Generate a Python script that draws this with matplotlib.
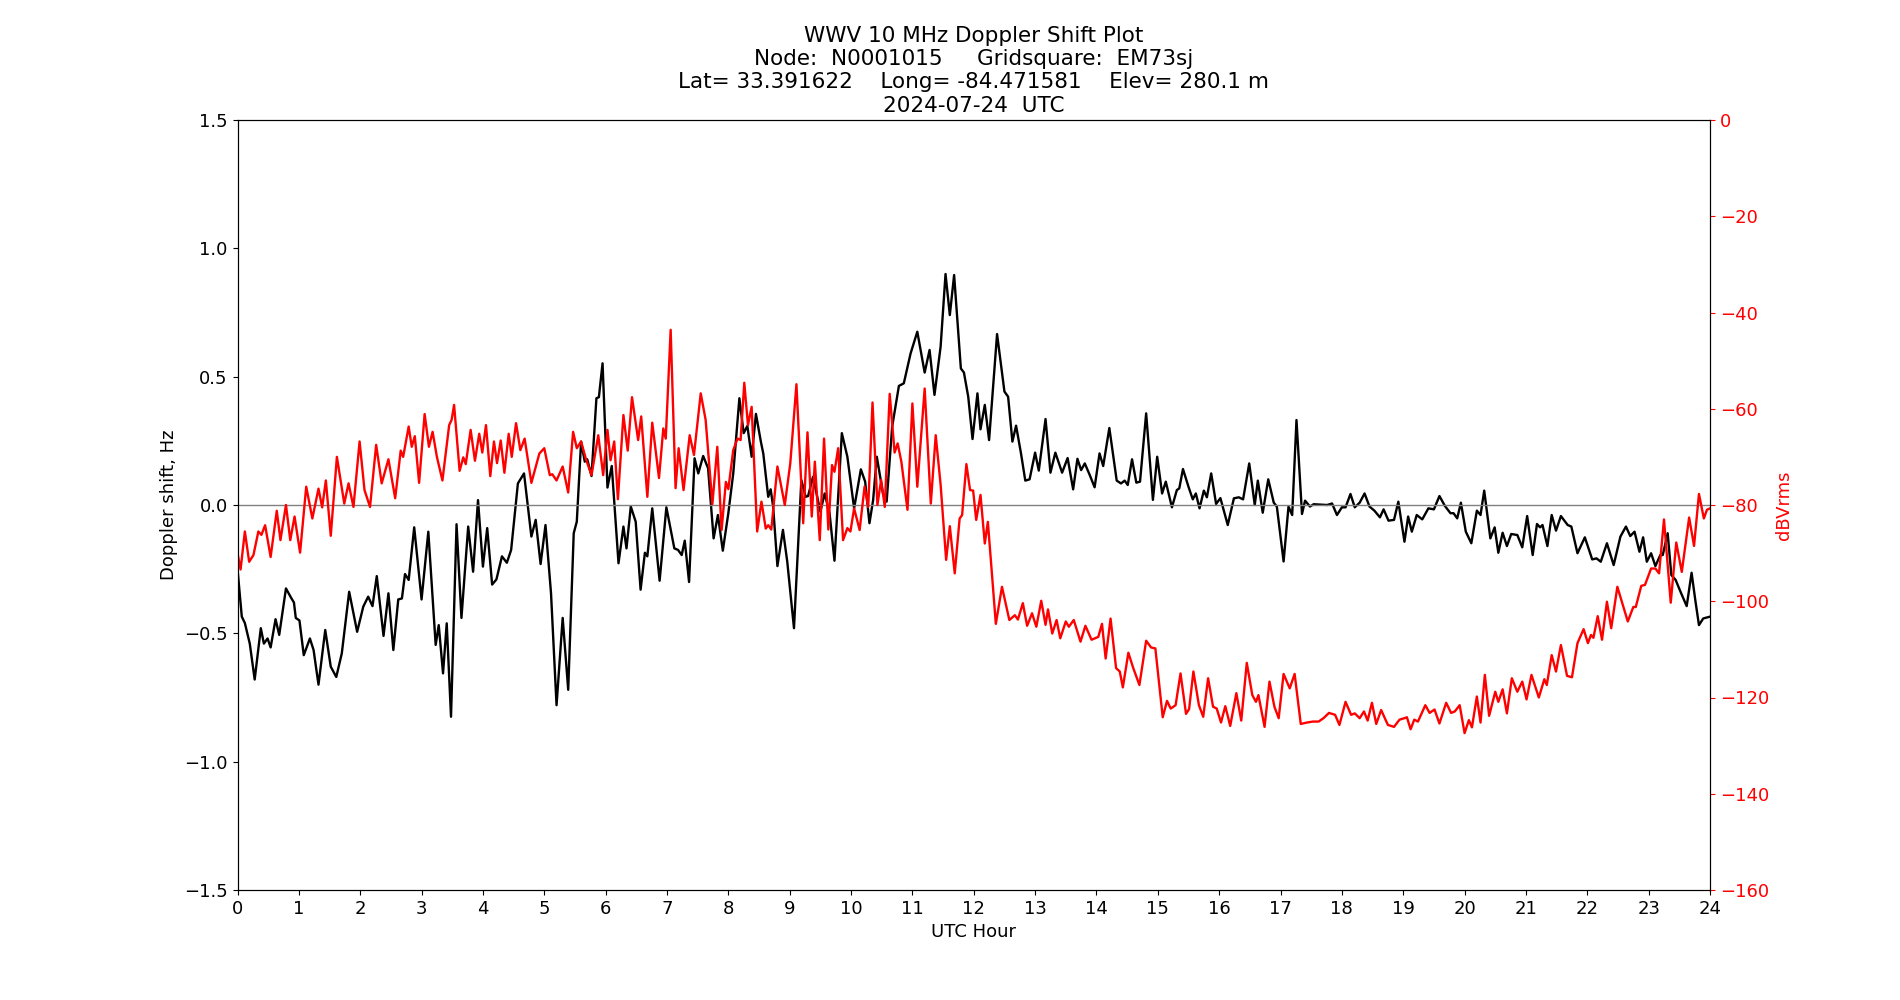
import matplotlib
matplotlib.use("Agg")
import matplotlib.pyplot as plt

# =========================
# DATA
# =========================
# Doppler shift (Hz) vs UTC hour
hours_doppler = [
    0.00, 0.07, 0.12, 0.20, 0.28, 0.38, 0.43, 0.49, 0.54, 0.62, 0.68, 0.79, 0.87, 0.92, 0.95,
    1.01, 1.08, 1.18, 1.24, 1.32, 1.43, 1.52, 1.61, 1.70, 1.82, 1.95, 2.05, 2.13, 2.20, 2.27,
    2.38, 2.46, 2.54, 2.62, 2.68, 2.73, 2.79, 2.88, 3.00, 3.11, 3.23, 3.28, 3.35, 3.41, 3.48,
    3.57, 3.65, 3.76, 3.84, 3.92, 4.00, 4.07, 4.15, 4.22, 4.31, 4.39, 4.46, 4.57, 4.67, 4.79,
    4.86, 4.94, 5.02, 5.11, 5.20, 5.30, 5.39, 5.48, 5.53, 5.60, 5.66, 5.70, 5.77, 5.85, 5.89,
    5.95, 6.03, 6.10, 6.21, 6.29, 6.34, 6.41, 6.49, 6.57, 6.64, 6.68, 6.76, 6.88, 6.99, 7.12,
    7.18, 7.24, 7.29, 7.36, 7.45, 7.51, 7.59, 7.67, 7.76, 7.83, 7.91, 8.00, 8.08, 8.18, 8.25,
    8.31, 8.38, 8.45, 8.53, 8.57, 8.65, 8.69, 8.73, 8.80, 8.89, 8.96, 9.07, 9.19, 9.26, 9.30,
    9.38, 9.50, 9.57, 9.65, 9.73, 9.85, 9.94, 10.05, 10.16, 10.23, 10.30, 10.36, 10.42, 10.46,
    10.52, 10.58, 10.67, 10.78, 10.86, 10.97, 11.08, 11.20, 11.28, 11.36, 11.46, 11.54, 11.61,
    11.68, 11.79, 11.84, 11.91, 11.98, 12.06, 12.11, 12.18, 12.25, 12.38, 12.50, 12.56, 12.63,
    12.69, 12.77, 12.84, 12.91, 13.00, 13.06, 13.17, 13.25, 13.33, 13.44, 13.53, 13.62, 13.69,
    13.75, 13.81, 13.89, 13.97, 14.05, 14.11, 14.21, 14.33, 14.40, 14.46, 14.51, 14.58, 14.65,
    14.71, 14.81, 14.92, 14.99, 15.07, 15.13, 15.23, 15.31, 15.35, 15.41, 15.50, 15.57, 15.62,
    15.68, 15.75, 15.80, 15.87, 15.95, 16.02, 16.14, 16.24, 16.32, 16.39, 16.49, 16.58, 16.63,
    16.71, 16.80, 16.89, 16.94, 17.05, 17.13, 17.19, 17.26, 17.35, 17.40, 17.48, 17.54, 17.76,
    17.84, 17.92, 18.00, 18.06, 18.14, 18.21, 18.29, 18.37, 18.45, 18.53, 18.62, 18.68, 18.76,
    18.85, 18.92, 19.02, 19.08, 19.14, 19.22, 19.31, 19.41, 19.50, 19.59, 19.68, 19.77, 19.82,
    19.88, 19.94, 20.02, 20.11, 20.20, 20.26, 20.32, 20.42, 20.49, 20.55, 20.62, 20.69, 20.76,
    20.86, 20.94, 21.02, 21.11, 21.18, 21.23, 21.27, 21.35, 21.42, 21.49, 21.57, 21.68, 21.74,
    21.84, 21.96, 22.08, 22.15, 22.22, 22.32, 22.43, 22.54, 22.63, 22.70, 22.77, 22.85, 22.91,
    22.97, 23.04, 23.11, 23.19, 23.23, 23.31, 23.37, 23.44, 23.53, 23.62, 23.70, 23.76, 23.82,
    23.89, 24.00,
]
doppler_hz = [
    -0.25, -0.435, -0.46, -0.54, -0.68, -0.48, -0.54, -0.52, -0.555, -0.445, -0.506, -0.325, -0.36, -0.38, -0.44,
    -0.45, -0.585, -0.52, -0.565, -0.70, -0.487, -0.63, -0.67, -0.578, -0.338, -0.494, -0.396, -0.357, -0.394, -0.277,
    -0.51, -0.344, -0.565, -0.368, -0.364, -0.269, -0.292, -0.087, -0.368, -0.104, -0.545, -0.468, -0.656, -0.461, -0.825,
    -0.075, -0.44, -0.084, -0.26, 0.019, -0.24, -0.09, -0.31, -0.29, -0.20, -0.225, -0.175, 0.084, 0.123, -0.123,
    -0.058, -0.23, -0.078, -0.344, -0.78, -0.44, -0.72, -0.11, -0.065, 0.247, 0.169, 0.178, 0.113, 0.416, 0.42,
    0.552, 0.068, 0.152, -0.227, -0.084, -0.169, -0.006, -0.065, -0.33, -0.186, -0.20, -0.013, -0.295, -0.009, -0.169,
    -0.175, -0.195, -0.139, -0.30, 0.182, 0.123, 0.191, 0.143, -0.13, -0.039, -0.178, -0.032, 0.123, 0.416, 0.28,
    0.308, 0.188, 0.355, 0.247, 0.20, 0.032, 0.061, -0.006, -0.238, -0.097, -0.22, -0.48, 0.097, 0.032, 0.035,
    0.11, -0.026, 0.045, -0.032, -0.217, 0.28, 0.188, -0.013, 0.139, 0.091, -0.071, 0.019, 0.188, 0.13,
    0.045, 0.013, 0.305, 0.464, 0.474, 0.59, 0.675, 0.516, 0.604, 0.429, 0.617, 0.90, 0.74,
    0.896, 0.532, 0.516, 0.422, 0.257, 0.435, 0.295, 0.39, 0.253, 0.666, 0.442, 0.422, 0.247,
    0.309, 0.201, 0.095, 0.10, 0.204, 0.134, 0.335, 0.126, 0.204, 0.126, 0.183, 0.061, 0.18,
    0.136, 0.162, 0.117, 0.069, 0.201, 0.152, 0.30, 0.095, 0.084, 0.095, 0.078, 0.178, 0.087,
    0.091, 0.357, 0.02, 0.188, 0.045, 0.091, -0.009, 0.058, 0.065, 0.14, 0.071, 0.022, 0.045,
    -0.013, 0.056, 0.03, 0.123, 0.004, 0.027, -0.078, 0.026, 0.03, 0.022, 0.162, 0.0, 0.095,
    -0.03, 0.10, 0.009, -0.006, -0.22, -0.006, -0.039, 0.331, -0.035, 0.017, -0.006, 0.003, 0.0,
    0.006, -0.039, -0.009, -0.009, 0.043, -0.009, 0.009, 0.045, -0.006, -0.022, -0.048, -0.017, -0.061,
    -0.058, 0.013, -0.143, -0.045, -0.104, -0.039, -0.056, -0.013, -0.017, 0.035, -0.004, -0.032, -0.032,
    -0.052, 0.009, -0.104, -0.149, -0.022, -0.039, 0.056, -0.13, -0.087, -0.186, -0.108, -0.16, -0.113,
    -0.117, -0.165, -0.043, -0.195, -0.074, -0.087, -0.078, -0.16, -0.039, -0.10, -0.043, -0.078, -0.084,
    -0.188, -0.126, -0.212, -0.208, -0.221, -0.149, -0.234, -0.123, -0.084, -0.121, -0.104, -0.182, -0.126,
    -0.221, -0.188, -0.238, -0.195, -0.195, -0.11, -0.273, -0.292, -0.344, -0.394, -0.264, -0.37, -0.468,
    -0.442, -0.435,
]

# Received power (dBVrms) vs UTC hour
hours_power = [
    0.00, 0.05, 0.12, 0.19, 0.26, 0.34, 0.39, 0.45, 0.54, 0.64, 0.70, 0.79, 0.86, 0.93, 1.02,
    1.12, 1.22, 1.32, 1.38, 1.44, 1.52, 1.62, 1.74, 1.81, 1.89, 1.99, 2.07, 2.16, 2.26, 2.35,
    2.46, 2.57, 2.66, 2.70, 2.79, 2.84, 2.89, 2.96, 3.05, 3.12, 3.18, 3.25, 3.34, 3.45, 3.49,
    3.53, 3.62, 3.68, 3.72, 3.80, 3.87, 3.94, 3.99, 4.05, 4.12, 4.18, 4.23, 4.29, 4.35, 4.42,
    4.47, 4.54, 4.61, 4.68, 4.79, 4.92, 5.00, 5.09, 5.13, 5.20, 5.30, 5.39, 5.47, 5.53, 5.60,
    5.68, 5.77, 5.88, 5.96, 6.03, 6.08, 6.14, 6.20, 6.29, 6.36, 6.43, 6.53, 6.58, 6.68, 6.76,
    6.87, 6.94, 6.98, 7.06, 7.14, 7.19, 7.27, 7.37, 7.44, 7.55, 7.63, 7.74, 7.82, 7.89, 7.96,
    8.00, 8.08, 8.15, 8.20, 8.26, 8.32, 8.38, 8.47, 8.54, 8.61, 8.65, 8.70, 8.80, 8.92, 9.01,
    9.11, 9.22, 9.29, 9.36, 9.41, 9.49, 9.56, 9.63, 9.69, 9.73, 9.79, 9.87, 9.94, 9.99, 10.05,
    10.14, 10.22, 10.28, 10.35, 10.43, 10.49, 10.55, 10.63, 10.71, 10.76, 10.82, 10.92, 11.00,
    11.08, 11.20, 11.30, 11.38, 11.46, 11.55, 11.61, 11.69, 11.77, 11.81, 11.88, 11.94, 11.99,
    12.04, 12.11, 12.18, 12.23, 12.36, 12.46, 12.58, 12.67, 12.72, 12.80, 12.87, 12.95, 13.02,
    13.10, 13.17, 13.21, 13.28, 13.35, 13.41, 13.50, 13.55, 13.63, 13.74, 13.82, 13.92, 14.03,
    14.09, 14.15, 14.23, 14.32, 14.38, 14.43, 14.52, 14.60, 14.70, 14.81, 14.89, 14.96, 15.08,
    15.15, 15.21, 15.29, 15.37, 15.46, 15.51, 15.58, 15.67, 15.74, 15.82, 15.90, 15.96, 16.03,
    16.10, 16.18, 16.28, 16.36, 16.45, 16.54, 16.60, 16.64, 16.74, 16.82, 16.90, 16.97, 17.05,
    17.15, 17.23, 17.33, 17.43, 17.53, 17.62, 17.70, 17.79, 17.89, 17.96, 18.06, 18.15, 18.21,
    18.29, 18.36, 18.42, 18.49, 18.56, 18.64, 18.75, 18.85, 18.94, 19.02, 19.06, 19.12, 19.18,
    19.24, 19.36, 19.43, 19.51, 19.59, 19.70, 19.78, 19.84, 19.92, 20.00, 20.07, 20.12, 20.20,
    20.26, 20.33, 20.40, 20.50, 20.55, 20.62, 20.69, 20.77, 20.86, 20.94, 21.01, 21.09, 21.21,
    21.30, 21.34, 21.42, 21.49, 21.57, 21.67, 21.75, 21.84, 21.94, 22.01, 22.06, 22.10, 22.17,
    22.24, 22.32, 22.39, 22.49, 22.66, 22.75, 22.79, 22.88, 22.94, 23.04, 23.11, 23.17, 23.25,
    23.36, 23.45, 23.54, 23.66, 23.74, 23.82, 23.90, 23.95, 24.00,
]
power_dbv = [
    -90.0, -93.4, -85.5, -91.8, -90.4, -85.5, -86.2, -84.2, -90.8, -81.2, -87.3, -80.0, -87.3, -82.4, -89.9,
    -76.2, -82.8, -76.6, -80.5, -74.9, -86.4, -70.0, -79.7, -75.5, -80.4, -66.8, -76.9, -80.4, -67.5, -75.5,
    -70.5, -78.6, -68.7, -70.0, -63.7, -67.9, -65.7, -75.4, -61.1, -67.9, -64.8, -70.0, -74.9, -63.4, -62.3,
    -59.2, -72.9, -70.1, -71.5, -64.4, -70.8, -65.2, -69.1, -63.4, -74.0, -66.8, -71.3, -66.6, -73.3, -65.2,
    -70.0, -63.0, -68.6, -66.2, -75.4, -69.3, -68.2, -73.8, -73.6, -74.9, -72.0, -77.4, -64.8, -68.2, -66.8,
    -70.5, -73.8, -65.5, -73.8, -64.4, -70.7, -66.8, -78.8, -61.3, -68.7, -57.6, -66.5, -61.6, -78.3, -62.9,
    -74.4, -64.1, -66.2, -43.6, -76.5, -68.2, -76.9, -65.5, -69.6, -56.8, -62.3, -79.8, -67.9, -85.2, -75.2,
    -76.7, -68.6, -66.2, -66.5, -54.6, -63.4, -59.6, -85.5, -79.3, -84.9, -84.2, -85.1, -72.0, -80.0, -71.3,
    -54.9, -83.8, -64.9, -82.4, -71.0, -87.3, -66.2, -85.1, -71.7, -73.1, -68.2, -87.3, -84.8, -85.5, -80.7,
    -85.2, -76.2, -80.4, -58.7, -80.0, -74.8, -80.4, -56.9, -69.1, -67.2, -71.0, -81.0, -58.9,
    -76.2, -55.8, -79.7, -65.5, -75.8, -91.4, -84.4, -94.2, -82.8, -82.1, -71.5, -76.9, -77.0,
    -83.1, -77.9, -88.0, -83.5, -104.7, -97.0, -103.9, -102.9, -103.8, -100.4, -105.1, -102.5, -105.3,
    -99.9, -104.9, -101.7, -106.7, -103.9, -107.7, -104.2, -105.3, -103.9, -108.4, -105.1, -108.0, -107.4,
    -104.7, -111.9, -103.6, -113.9, -114.6, -117.9, -110.7, -113.9, -117.4, -108.2, -109.6, -109.8, -124.1,
    -120.7, -122.3, -121.6, -115.0, -123.4, -122.4, -114.6, -121.6, -124.0, -116.0, -121.9, -122.3, -125.2,
    -121.8, -125.9, -119.1, -124.8, -112.8, -119.5, -120.9, -119.5, -126.1, -116.7, -121.9, -124.3, -115.1,
    -118.1, -115.1, -125.5, -125.2, -125.0, -125.0, -124.3, -123.2, -123.6, -125.7, -120.9, -123.6, -123.3,
    -124.3, -122.9, -124.8, -121.1, -125.5, -122.6, -125.7, -126.1, -124.6, -124.3, -124.1, -126.6, -124.6,
    -125.0, -121.6, -123.2, -122.5, -125.4, -121.1, -123.2, -122.9, -121.6, -127.4, -124.7, -126.2, -119.8,
    -125.2, -115.3, -123.8, -118.8, -120.9, -118.3, -123.3, -116.0, -118.8, -116.7, -120.4, -115.3, -120.0,
    -116.2, -117.4, -111.2, -114.6, -109.1, -115.5, -115.8, -108.7, -105.8, -108.7, -107.0, -107.6, -103.1,
    -108.0, -100.1, -105.6, -97.0, -104.2, -101.2, -101.2, -96.8, -96.6, -93.2, -93.2, -94.2, -83.0,
    -100.3, -87.8, -93.9, -82.6, -88.5, -77.7, -82.8, -81.0, -80.7,
]

hour_ticks = list(range(0, 25))
power_ticks = [0, -20, -40, -60, -80, -100, -120, -140, -160]

title = ("WWV 10 MHz Doppler Shift Plot\n"
         "Node:  N0001015     Gridsquare:  EM73sj\n"
         "Lat= 33.391622    Long= -84.471581    Elev= 280.1 m\n"
         "2024-07-24  UTC")

# =========================
# PLOT
# =========================
fig, ax = plt.subplots(figsize=(19, 10), dpi=100)

ax.plot(hours_doppler, doppler_hz, color="black", lw=1.7,
        solid_joinstyle="round")
ax.axhline(0, color="grey", lw=1)
ax.set_xlim(0, 24)
ax.set_ylim(-1.5, 1.5)
ax.set_xticks(hour_ticks)
ax.set_xlabel("UTC Hour", fontsize=13)
ax.set_ylabel("Doppler shift, Hz", fontsize=13)
ax.tick_params(labelsize=13)

ax2 = ax.twinx()
ax2.plot(hours_power, power_dbv, color="red", lw=1.7,
         solid_joinstyle="round")
ax2.set_ylim(-160, 0)
ax2.set_yticks(power_ticks)
ax2.set_ylabel("dBVrms", color="red", fontsize=13)
ax2.tick_params(axis="y", colors="red", labelsize=13)
ax2.spines["right"].set_color("black")

ax.set_title(title, fontsize=15.5)

fig.savefig("out.png")
